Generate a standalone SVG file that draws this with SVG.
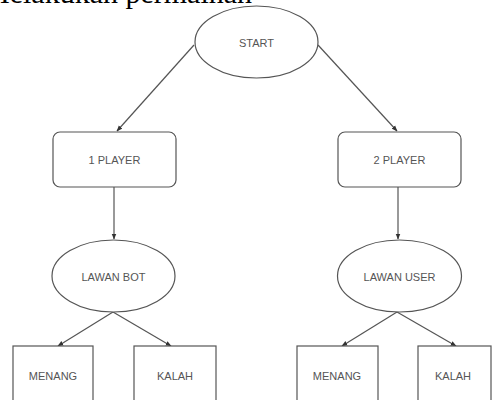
<svg xmlns="http://www.w3.org/2000/svg" width="492" height="400" viewBox="0 0 492 400">
<style>
.shape{fill:#fff;stroke:#555;stroke-width:1.2}
.lbl{font-family:"Liberation Sans",Arial,sans-serif;font-size:11px;fill:#555;text-anchor:middle;dominant-baseline:central}
.conn{stroke:#555;stroke-width:1.2;fill:none;marker-end:url(#arr)}
</style>
<defs>
<marker id="arr" viewBox="0 0 10 10" refX="9" refY="5" markerWidth="6" markerHeight="6" orient="auto" markerUnits="userSpaceOnUse">
<path d="M0,1 L10,5 L0,9 Z" fill="#333"/>
</marker>
</defs>
<rect width="492" height="400" fill="#fff"/>
<text x="-17" y="3" font-family="'Liberation Serif','Times New Roman',serif" font-size="30" fill="#000">Melakukan permainan</text>
<g id="connectors">
<path class="conn" d="M194,45 L117,131"/>
<path class="conn" d="M318,45 L397,131"/>
<path class="conn" d="M114,187 L114,239"/>
<path class="conn" d="M398,187 L398,239"/>
<path class="conn" d="M113,312 L58,346"/>
<path class="conn" d="M113,312 L171,346"/>
<path class="conn" d="M397,312 L342,346"/>
<path class="conn" d="M397,312 L456,346"/>
</g>
<g id="start"><ellipse class="shape" cx="256.5" cy="42" rx="61.5" ry="36"/><text class="lbl" x="256.5" y="43">START</text></g>
<g id="player1"><rect class="shape" x="53" y="132" width="123" height="55" rx="7"/><text class="lbl" x="114.5" y="160">1 PLAYER</text></g>
<g id="player2"><rect class="shape" x="338" y="132" width="123" height="55" rx="7"/><text class="lbl" x="399.5" y="160">2 PLAYER</text></g>
<g id="lawanbot"><ellipse class="shape" cx="113.5" cy="276" rx="61.5" ry="36"/><text class="lbl" x="113.5" y="277">LAWAN BOT</text></g>
<g id="lawanuser"><ellipse class="shape" cx="399.5" cy="276" rx="62" ry="36"/><text class="lbl" x="399.5" y="277">LAWAN USER</text></g>
<g id="menang1"><rect class="shape" x="13" y="346" width="80" height="58"/><text class="lbl" x="53" y="376">MENANG</text></g>
<g id="kalah1"><rect class="shape" x="134" y="346" width="82" height="58"/><text class="lbl" x="175" y="376">KALAH</text></g>
<g id="menang2"><rect class="shape" x="297" y="346" width="81" height="58"/><text class="lbl" x="337" y="376">MENANG</text></g>
<g id="kalah2"><rect class="shape" x="418" y="346" width="73" height="58"/><text class="lbl" x="453" y="376">KALAH</text></g>
</svg>
